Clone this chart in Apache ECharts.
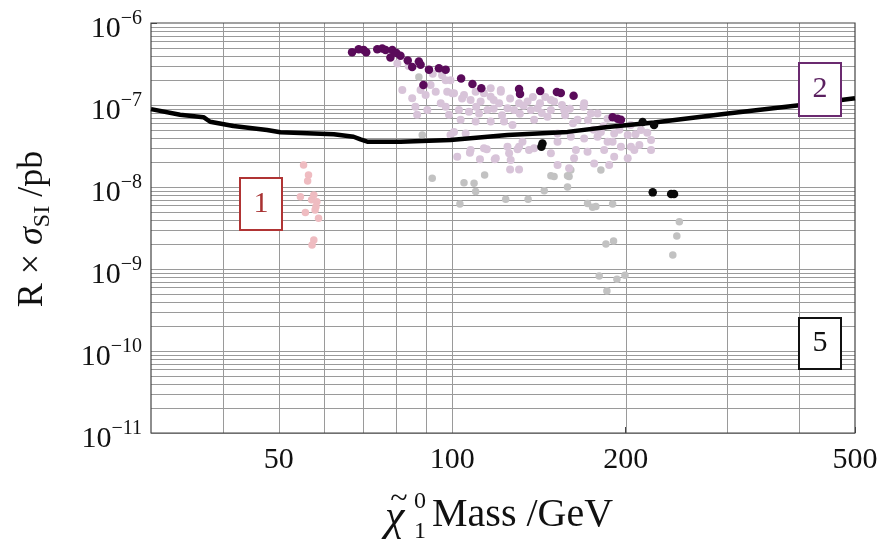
<!DOCTYPE html>
<html>
<head>
<meta charset="utf-8">
<script src="https://cdn.jsdelivr.net/npm/echarts@6/dist/echarts.min.js"></script>
<style>
html,body{margin:0;padding:0;background:#fff;}
#chart{width:894px;height:542px;}
</style>
</head>
<body>
<div id="chart"></div>
<script>
// ---------- data ----------
const xTickValues = [50, 100, 200, 500];
const yTickValues = [1e-11, 1e-10, 1e-9, 1e-8, 1e-7, 1e-6];
const xGridValues = [40, 50, 60, 70, 80, 90, 100, 200, 300, 400];
const yGridDecades = [1e-11, 1e-10, 1e-9, 1e-8, 1e-7];
const yGridMultipliers = [1, 2, 3, 4, 5, 6, 7, 8, 9];

const limitMass = [30, 33.7, 37.0, 38.0, 41.7, 47.7, 50.3, 62.3, 67.4, 69.3, 71.2, 81.3, 99.3, 124.7, 158.5, 186.0, 224.2, 300.8, 403.5, 500];
const limitValue = [8.9e-8, 7.6e-8, 7.1e-8, 6.25e-8, 5.55e-8, 4.95e-8, 4.65e-8, 4.4e-8, 4.1e-8, 3.8e-8, 3.57e-8, 3.57e-8, 3.74e-8, 4.3e-8, 4.7e-8, 5.4e-8, 6.1e-8, 7.9e-8, 1.0e-7, 1.21e-7];

const pinkPoints = [[55.2,1.85e-8],[56.3,1.4e-8],[56.1,1.18e-8],[54.5,7.6e-9],[57.5,8.0e-9],[58.2,6.6e-9],[57.0,7.0e-9],[55.6,4.9e-9],[57.8,5.25e-9],[58.6,4.15e-9],[58.0,5.8e-9],[57.5,2.26e-9],[57.1,1.96e-9]];

const darkPurplePoints = [[67.0,4.4e-7],[68.8,4.8e-7],[70.2,4.7e-7],[70.9,4.4e-7],[74.1,4.8e-7],[75.6,4.9e-7],[76.6,4.7e-7],[78.7,4.7e-7],[78.1,3.8e-7],[80.0,4.3e-7],[81.3,4.0e-7],[83.7,3.5e-7],[85.2,2.9e-7],[87.5,3.4e-7],[88.1,3.1e-7],[91.1,2.7e-7],[94.8,2.8e-7],[97.4,2.7e-7],[89.1,1.75e-7],[103.6,2.1e-7],[108.4,1.8e-7],[112.3,1.6e-7],[130.6,1.57e-7],[131.1,1.36e-7],[142.1,1.48e-7],[151.9,1.44e-7],[154.3,1.40e-7],[162.4,1.3e-7],[189.8,7.1e-8],[193.6,6.8e-8],[196.2,6.6e-8]];

const blackPoints = [[143.4,3.4e-8],[142.8,3.1e-8],[214.0,6.2e-8],[224.0,5.7e-8],[222.8,8.6e-9],[239.8,8.2e-9],[242.6,8.2e-9]];

const lavenderPoints = [[80.3,3.2e-7],[84.0,3.0e-7],[92.5,2.4e-7],[96.0,2.3e-7],[81.9,1.52e-7],[85.2,1.21e-7],[86.3,9.5e-8],[86.9,7.6e-8],[88.1,1.52e-7],[89.9,1.32e-7],[91.7,1.75e-7],[93.6,1.45e-7],[95.5,1.05e-7],[97.4,9.5e-8],[98.7,7.6e-8],[97.4,2.0e-7],[100.0,1.39e-7],[90.5,8.7e-8],
[99.3,2.0e-7],[98.0,1.45e-7],[116.6,1.6e-7],[121.4,1.52e-7],[169.0,9.5e-8],[178.7,7.9e-8],[186.0,6.8e-8],[204.0,5.7e-8],
[100.7,1.39e-7],[104.8,1.32e-7],[109.8,1.45e-7],[113.5,1.39e-7],[107.6,1.15e-7],[112.0,1.10e-7],[116.6,1.26e-7],[121.4,1.45e-7],[120.6,1.05e-7],[124.7,9.1e-8],[128.0,8.7e-8],[130.6,1.05e-7],[135.1,1.10e-7],[136.9,8.7e-8],[140.6,9.1e-8],[148.3,1.15e-7],[148.3,8.7e-8],[102.7,8.7e-8],[106.9,8.3e-8],[111.3,7.9e-8],[115.1,8.7e-8],[103.4,6.6e-8],[109.8,6.3e-8],[116.6,6.3e-8],[123.0,6.3e-8],[127.2,5.7e-8],[138.7,6.6e-8],[146.3,7.2e-8],[100.7,4.7e-8],[105.5,4.5e-8],
[104.0,1.2e-7],[118.0,1.15e-7],[126.0,1.2e-7],[133.0,9.8e-8],[142.0,1.05e-7],[145.0,1.25e-7],[155.0,1.0e-7],[160.0,9.0e-8],[138.0,1.25e-7],[110.0,9.5e-8],[118.0,9.0e-8],[122.0,7.5e-8],[131.0,7.8e-8],[143.0,8.0e-8],[157.0,7.5e-8],[162.0,6.0e-8],[172.0,6.5e-8],[183.0,5.5e-8],[195.0,5.0e-8],[208.0,4.4e-8],[218.0,4.6e-8],[191.0,4.5e-8],[176.0,5.0e-8],
[102.0,2.34e-8],[107.6,2.83e-8],[113.5,2.96e-8],[119.0,2.24e-8],[125.5,2.58e-8],[130.6,3.1e-8],[132.4,3.57e-8],[135.9,2.83e-8],[148.3,2.58e-8],[152.3,3.57e-8],
[150.2,1.10e-7],[156.4,8.7e-8],[169.4,1.05e-7],[174.0,7.9e-8],[165.0,6.6e-8],[152.3,4.5e-8],[160.6,4.1e-8],[169.4,3.9e-8],[178.7,4.1e-8],[181.1,4.7e-8],[186.0,3.57e-8],[189.8,3.57e-8],[201.6,4.3e-8],[204.2,3.1e-8],[207.0,2.83e-8],[212.6,4.95e-8],[221.3,3.74e-8],[221.3,2.83e-8],[211.2,3.25e-8],[196.2,3.1e-8],[163.9,2.83e-8],[171.7,2.69e-8],[183.5,2.83e-8],[191.0,2.34e-8],[201.6,2.24e-8],[176.3,1.94e-8],[162.7,2.24e-8],[152.3,1.85e-8],[159.5,1.69e-8],[187.2,1.85e-8],
[99.3,4.3e-8],[107.3,2.62e-8],[111.7,2.18e-8],[114.8,2.88e-8],[118.5,2.18e-8],[124.7,3.1e-8],[126.3,2.13e-8],[126.0,1.64e-8],[130.6,1.64e-8],[129.8,2.88e-8],[138.7,2.96e-8]];

const grayPoints = [[87.5,2.2e-7],[88.7,4.3e-8],[92.3,1.28e-8],[113.8,1.40e-8],[104.8,1.13e-8],[109.1,1.11e-8],[109.8,8.8e-9],[123.8,7.1e-9],[135.4,7.1e-9],[144.4,9.0e-9],[148.3,1.37e-8],[103.1,6.2e-9],[158.5,1.37e-8],[160.6,1.61e-8],[150.2,1.34e-8],[159.5,1.34e-8],[158.5,1.0e-8],[171.7,6.3e-9],[175.2,5.65e-9],[177.5,5.8e-9],[189.8,6.2e-9],[184.8,2.02e-9],[190.5,2.19e-9],[179.9,8.2e-10],[193.1,7.5e-10],[199.4,8.4e-10],[185.5,5.4e-10],[247.8,3.78e-9],[245.3,2.52e-9],[241.4,1.48e-9],[181.1,1.61e-8]];

// ---------- chart ----------
const SERIF = '"Liberation Serif", "DejaVu Serif", serif';
const chart = echarts.init(document.getElementById('chart'), null, {renderer: 'canvas'});

const X_MIN = 30, Y_MIN = 1e-11;
const yGridValues = [];
yGridDecades.forEach(d => yGridMultipliers.forEach(m => yGridValues.push(d * m)));

const limitData = limitMass.map((m, i) => [m, limitValue[i]]);
const GRID_COLOR = '#9a9a9a';

function scatter(name, data, color, size, z) {
  return {
    name: name, type: 'scatter', data: data, symbol: 'circle', symbolSize: size,
    itemStyle: {color: color, opacity: 1}, z: z, silent: true, animation: false
  };
}

function gridSeries(name, data, vertical) {
  return {
    name: name, type: 'custom', silent: true, animation: false, z: 1, clip: false,
    encode: {x: 0, y: 1},
    data: data,
    renderItem: function (params, api) {
      const cs = params.coordSys;
      const p = api.coord([api.value(0), api.value(1)]);
      const shape = vertical
        ? {x1: Math.round(p[0]) + 0.5, y1: cs.y, x2: Math.round(p[0]) + 0.5, y2: cs.y + cs.height}
        : {x1: cs.x, y1: Math.round(p[1]) + 0.5, x2: cs.x + cs.width, y2: Math.round(p[1]) + 0.5};
      return {type: 'line', shape: shape, style: {stroke: GRID_COLOR, lineWidth: 1}};
    }
  };
}

const option = {
  backgroundColor: '#fff',
  animation: false,
  grid: {left: 151, right: 39, top: 23, bottom: 109, show: true, borderColor: '#444', borderWidth: 1.2, backgroundColor: 'transparent', containLabel: false, outerBoundsMode: 'none', z: 3},
  xAxis: {
    type: 'log', logBase: 10, min: 30, max: 500,
    axisLine: {show: false},
    splitLine: {show: false},
    minorTick: {show: false},
    axisTick: {show: true, inside: true, length: 6, customValues: xTickValues, lineStyle: {color: '#444'}},
    axisLabel: {customValues: xTickValues, formatter: v => String(Math.round(v)), margin: 12,
      fontFamily: SERIF, fontSize: 30, color: '#111'}
  },
  yAxis: {
    type: 'log', logBase: 10, min: 1e-11, max: 1e-6,
    axisLine: {show: false},
    splitLine: {show: false},
    axisTick: {show: true, inside: true, length: 6, customValues: yTickValues, lineStyle: {color: '#444'}},
    axisLabel: {
      customValues: yTickValues, margin: 9, padding: [10, 0, 0, 0],
      formatter: v => '{b|10}{s|−' + Math.abs(Math.round(Math.log10(v))) + '}',
      rich: {
        b: {fontFamily: SERIF, fontSize: 30, color: '#111', lineHeight: 32, verticalAlign: 'bottom', padding: [6, 0, 0, 0]},
        s: {fontFamily: SERIF, fontSize: 20, color: '#111', lineHeight: 20, verticalAlign: 'bottom', padding: [0, 0, 15, 0]}
      }
    }
  },
  series: [
    gridSeries('xgrid', xGridValues.map(v => [v, Y_MIN]), true),
    gridSeries('ygrid', yGridValues.map(v => [X_MIN, v]), false),
    scatter('gray', grayPoints, '#c2c2c2', 7.5, 2),
    scatter('pink', pinkPoints, '#efbcc1', 7.5, 3),
    scatter('lavender', lavenderPoints, '#d8c4d9', 8, 3),
    {
      name: 'limit', type: 'line', data: limitData, showSymbol: false, symbol: 'none',
      lineStyle: {color: '#000', width: 4.5}, z: 4, silent: true, animation: false
    },
    scatter('darkPurple', darkPurplePoints, '#5a0b5a', 8.5, 5),
    scatter('black', blackPoints, '#0a0a0a', 8.5, 5)
  ],
  graphic: [
    {type: 'text', x: 35, y: 229, rotation: Math.PI / 2, z: 10,
      style: {text: '{a|R × }{i|σ}{s|SI}{a| /pb}', align: 'center', verticalAlign: 'middle',
        rich: {
          a: {fontFamily: SERIF, fontSize: 36, fill: '#111', lineHeight: 40, verticalAlign: 'top', padding: [0, 0, 6, 0]},
          i: {fontFamily: SERIF, fontStyle: 'italic', fontSize: 36, fill: '#111', lineHeight: 40, verticalAlign: 'top', padding: [0, 0, 6, 0]},
          s: {fontFamily: SERIF, fontSize: 24, fill: '#111', lineHeight: 26, verticalAlign: 'bottom'}
        }}},
    {type: 'text', x: 385, y: 518, z: 10,
      style: {text: 'χ', align: 'left', verticalAlign: 'middle', fontFamily: SERIF, fontStyle: 'italic', fontSize: 44, fill: '#111'}},
    {type: 'text', x: 399, y: 500, z: 10,
      style: {text: '~', align: 'center', verticalAlign: 'middle', fontFamily: SERIF, fontSize: 32, fill: '#111'}},
    {type: 'text', x: 420, y: 532, z: 10,
      style: {text: '1', align: 'center', verticalAlign: 'middle', fontFamily: SERIF, fontSize: 24, fill: '#111'}},
    {type: 'text', x: 420, y: 502, z: 10,
      style: {text: '0', align: 'center', verticalAlign: 'middle', fontFamily: SERIF, fontSize: 24, fill: '#111'}},
    {type: 'text', x: 432, y: 515, z: 10,
      style: {text: 'Mass /GeV', align: 'left', verticalAlign: 'middle', fontFamily: SERIF, fontSize: 40, fill: '#111'}},
    {type: 'group', z: 20, children: [
      {type: 'rect', shape: {x: 240, y: 178, width: 42, height: 52}, style: {fill: '#fff', stroke: '#b03434', lineWidth: 2}, z: 20},
      {type: 'text', x: 261, y: 204, z: 21, style: {text: '1', align: 'center', verticalAlign: 'middle', fontFamily: SERIF, fontSize: 30, fill: '#a83232'}},
      {type: 'rect', shape: {x: 799, y: 63, width: 42, height: 53}, style: {fill: '#fff', stroke: '#6b2a70', lineWidth: 2}, z: 20},
      {type: 'text', x: 820, y: 89, z: 21, style: {text: '2', align: 'center', verticalAlign: 'middle', fontFamily: SERIF, fontSize: 30, fill: '#5a1f5f'}},
      {type: 'rect', shape: {x: 799, y: 318, width: 42, height: 51}, style: {fill: '#fff', stroke: '#111', lineWidth: 2}, z: 20},
      {type: 'text', x: 820, y: 343, z: 21, style: {text: '5', align: 'center', verticalAlign: 'middle', fontFamily: SERIF, fontSize: 30, fill: '#111'}}
    ]}
  ]
};
chart.setOption(option);
</script>
</body>
</html>
